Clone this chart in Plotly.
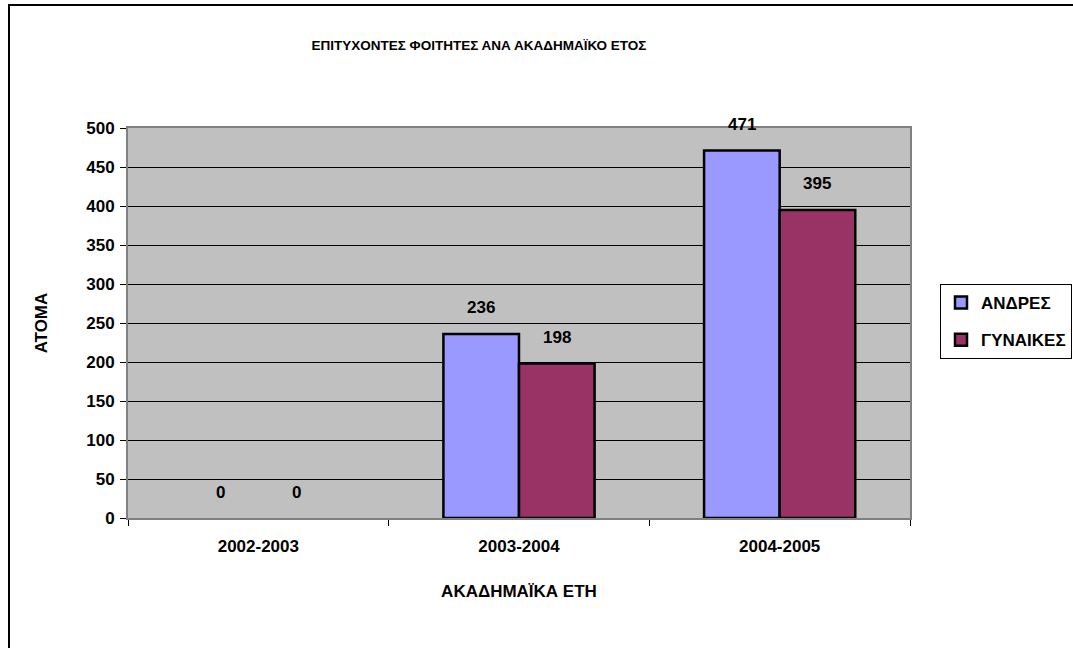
import plotly.graph_objects as go

# data
years = ["2002-2003", "2003-2004", "2004-2005"]
men = [0, 236, 471]
women = [0, 198, 395]
series_names = ["ΑΝΔΡΕΣ", "ΓΥΝΑΙΚΕΣ"]
series_colors = ["#9999FF", "#993366"]

W, H = 1073, 648
L, R, T, B = 128, 163, 128, 130
pw, ph = W - L - R, H - T - B
BARGAP = 0.42

font = dict(family="Liberation Sans, Arial, sans-serif", color="black")

fig = go.Figure()
for i, (name, vals, col) in enumerate(zip(series_names, [men, women], series_colors)):
    # zero-height bars draw nothing (no outline on the axis), only their label
    fig.add_trace(go.Bar(
        x=years, y=[v if v else None for v in vals], name="<b>%s</b>" % name,
        legendgroup=name,
        marker=dict(color=col, line=dict(color="black", width=2.5)),
    ))
    # value labels above each bar
    bw = (1 - BARGAP) / 2
    for j, v in enumerate(vals):
        fig.add_annotation(x=j + (i - 0.5) * bw, y=v, xref="x", yref="y",
                           text="<b>%d</b>" % v, showarrow=False,
                           yanchor="middle", yshift=26,
                           font=dict(size=17, **font))

# outer chart border (left and top visible; right/bottom run off the image)
fig.add_shape(type="rect", xref="paper", yref="paper",
              x0=(9 - L) / pw, x1=(1090 - L) / pw,
              y0=(T + ph - 665) / ph, y1=(T + ph - 5) / ph,
              line=dict(color="black", width=2), layer="below")

fig.update_layout(
    width=W, height=H,
    margin=dict(l=L, r=R, t=T, b=B, autoexpand=False),
    paper_bgcolor="white", plot_bgcolor="#C0C0C0",
    font=dict(size=17, **font),
    title=dict(text="<b>ΕΠΙΤΥΧΟΝΤΕΣ ΦΟΙΤΗΤΕΣ ΑΝΑ ΑΚΑΔΗΜΑΪΚΟ ΕΤΟΣ</b>",
               x=479 / W, xanchor="center", y=1 - 45 / H, yanchor="middle",
               font=dict(size=13.5, **font)),
    barmode="group", bargap=BARGAP, bargroupgap=0,
    showlegend=True,
    legend=dict(x=(940 - L) / pw, y=(T + ph - 284) / ph, xanchor="left", yanchor="top",
                bordercolor="black", borderwidth=1, bgcolor="white",
                font=dict(size=17, **font), itemwidth=30,
                traceorder="grouped", tracegroupgap=12),
    xaxis=dict(
        title=dict(text="<b>ΑΚΑΔΗΜΑΪΚΑ ΕΤΗ</b>", font=dict(size=17, **font), standoff=30),
        tickmode="array", tickvals=years, ticktext=["<b>%s</b>" % y for y in years],
        tickson="boundaries", ticks="outside", ticklen=6, tickcolor="black",
        ticklabelstandoff=12,
        showline=True, linecolor="#808080", linewidth=2, mirror=True,
        tickfont=dict(size=17, **font),
    ),
    yaxis=dict(
        title=dict(text="<b>ΑΤΟΜΑ</b>", font=dict(size=17, **font), standoff=34),
        range=[0, 500],
        tickvals=list(range(0, 501, 50)),
        ticktext=["<b>%d</b>" % v for v in range(0, 501, 50)],
        ticks="outside", ticklen=6, tickcolor="black", ticklabelstandoff=2,
        showgrid=True, gridcolor="black", gridwidth=1,
        showline=True, linecolor="#808080", linewidth=2, mirror=True,
        zeroline=False, tickfont=dict(size=17, **font),
    ),
)

fig.write_html("out.html", config={"displayModeBar": False},
               post_script="document.body.style.margin='0';")
